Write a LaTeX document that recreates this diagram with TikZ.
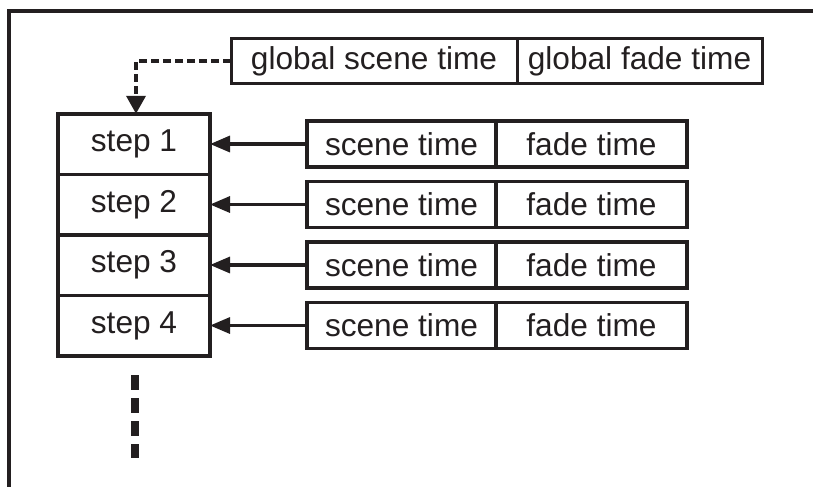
\documentclass[tikz,border=0pt]{standalone}
\usepackage{fontspec}
\setmainfont{Liberation Sans}
\usepackage{tikz}
\usetikzlibrary{positioning,arrows.meta}
\definecolor{ink}{RGB}{35,31,32}

\tikzset{
  box/.style={draw=ink, text=ink, line width=0.07cm, inner sep=0pt, outer sep=0pt,
    font=\fontsize{18}{22}\selectfont},
  stepbox/.style={box, minimum width=3.04cm, minimum height=1.21cm},
  timebox/.style={box, minimum height=0.92cm},
  globalbox/.style={box, line width=0.06cm, minimum height=0.9cm},
  feed/.style={draw=ink, line width=0.065cm, -{Triangle[length=0.4cm,width=0.32cm]}},
}

\begin{document}
\begin{tikzpicture}
        \useasboundingbox (0,0) rectangle (16.26,-9.72);

        % FRAME
        % -----------------

        \draw[ink, line width=0.065cm] (16.3,-0.22) -- (0.18,-0.22) -- (0.18,-9.8);

        % NODES
        % -----------------

        \node[globalbox, minimum width=5.72cm] (g_scene) at (7.48,-1.22) {global scene time};
        \node[globalbox, minimum width=4.9cm, right=0pt of g_scene] (g_fade) {global fade time};

        \foreach \i in {1,...,4}{
          \node[stepbox] (step\i) at (2.68,{-2.88-1.21*(\i-1)}) {step \i};
          \node[timebox, minimum width=3.78cm, right=1.94cm of step\i] (scene\i) {scene time};
          \node[timebox, minimum width=3.82cm, right=0pt of scene\i] (fade\i) {fade time};
        }

        \coordinate (more_top) at (2.7,-7.5);
        \coordinate (more_bot) at (2.7,-9.16);

        % EDGES
        % -----------------

        \foreach \i in {1,...,4}
          \draw[feed] (scene\i.west) -- (step\i.east);

        % global times feed the first step
        \draw[ink, line width=0.075cm, dash pattern=on 0.16cm off 0.08cm,
              -{Triangle[length=0.36cm,width=0.38cm]}]
              (g_scene.west) -| ([xshift=0.04cm]step1.north);

        % more steps follow
        \draw[ink, line width=0.16cm, dash pattern=on 0.3cm off 0.16cm] (more_top) -- (more_bot);

\end{tikzpicture}
\end{document}
